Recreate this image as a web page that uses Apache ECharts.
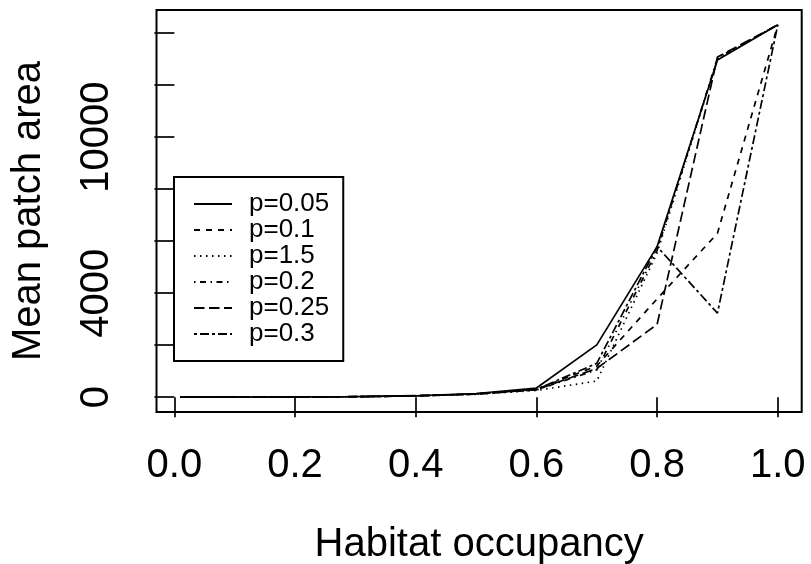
<!DOCTYPE html>
<html>
<head>
<meta charset="utf-8">
<script src="https://cdn.jsdelivr.net/npm/echarts@6/dist/echarts.min.js"></script>
<style>
  html, body { margin: 0; padding: 0; background: #fff; }
  #chart { width: 811px; height: 564px; }
</style>
</head>
<body>
<div id="chart"></div>
<script>
// Habitat occupancy (x) for each run
const occupancy = [0.01, 0.1, 0.2, 0.3, 0.4, 0.5, 0.6, 0.7, 0.8, 0.9, 1.0];

// Mean patch area per p value
const p005 = [2, 4, 8, 20, 55, 140, 350, 2010, 5790, 12970, 14320];
const p01  = [2, 4, 8, 18, 50, 120, 300, 1200, 3780, 6300, 14320];
const p15  = [2, 4, 8, 18, 45, 110, 260, 620, 5550, 13000, 14320];
const p02  = [2, 4, 8, 18, 48, 115, 280, 1050, 5650, 13050, 14320];
const p025 = [2, 4, 8, 18, 50, 120, 290, 1100, 2800, 13080, 14320];
const p03  = [2, 4, 8, 18, 50, 125, 300, 1300, 5790, 3230, 14320];

const seriesNames = ["p=0.05", "p=0.1", "p=1.5", "p=0.2", "p=0.25", "p=0.3"];
const seriesValues = [p005, p01, p15, p02, p025, p03];
// R lty 1..6: solid, dashed, dotted, dotdash, longdash, twodash
const dashes = ["solid", [6, 6], [1.5, 4.5], [1.5, 4.5, 6, 4.5], [10.5, 4.5], [3, 3, 9, 3]];

const xTicks = [0, 0.2, 0.4, 0.6, 0.8, 1.0];
const yTicks = [0, 2000, 4000, 6000, 8000, 10000, 12000, 14000];
const yLabels = [0, 4000, 10000];

const FONT = "Liberation Sans, Arial, Helvetica, sans-serif";

const chart = echarts.init(document.getElementById("chart"), null, { renderer: "canvas" });

const series = seriesNames.map((name, i) => ({
  name,
  type: "line",
  symbol: "none",
  data: occupancy.map((x, j) => [x, seriesValues[i][j]]),
  lineStyle: { color: "#000", width: 1.7, type: dashes[i] },
  itemStyle: { color: "#000" },
}));

chart.setOption({
  animation: false,
  backgroundColor: "#fff",
  grid: {
    left: 156.5, right: 9.3, top: 10, bottom: 152,
    show: true, borderColor: "#000", borderWidth: 2,
    outerBoundsMode: "none",
  },
  legend: {
    left: 174, top: 177,
    orient: "vertical",
    padding: [14, 14, 14, 19],
    itemWidth: 38, itemHeight: 10, itemGap: 0,
    borderColor: "#000", borderWidth: 2, borderRadius: 0,
    backgroundColor: "#fff",
    itemStyle: { opacity: 0, color: "rgba(0,0,0,0)", borderWidth: 0 },
    textStyle: { color: "#000", fontSize: 26, lineHeight: 25, fontFamily: FONT, padding: [0, 0, 0, 12] },
    data: seriesNames,
  },
  xAxis: {
    type: "value",
    min: -0.0296, max: 1.0396,
    name: "Habitat occupancy",
    nameLocation: "middle",
    nameGap: 113,
    nameTextStyle: { color: "#000", fontSize: 40, fontFamily: FONT },
    axisLine: { show: false },
    splitLine: { show: false },
    axisTick: { show: true, length: 20, customValues: xTicks, lineStyle: { color: "#000", width: 1.7 } },
    axisLabel: {
      customValues: xTicks, margin: 34, color: "#000", fontSize: 40, fontFamily: FONT,
      formatter: v => v.toFixed(1),
    },
  },
  yAxis: {
    type: "value",
    min: -571, max: 14891,
    name: "Mean patch area",
    nameLocation: "middle",
    nameGap: 108,
    nameTextStyle: { color: "#000", fontSize: 40, fontFamily: FONT },
    axisLine: { show: false },
    splitLine: { show: false },
    axisTick: { show: true, length: 20, customValues: yTicks, lineStyle: { color: "#000", width: 1.7 } },
    axisLabel: {
      customValues: yLabels, margin: 40, rotate: 90, color: "#000", fontSize: 40, fontFamily: FONT,
      formatter: v => String(v),
    },
  },
  series,
});
</script>
</body>
</html>
